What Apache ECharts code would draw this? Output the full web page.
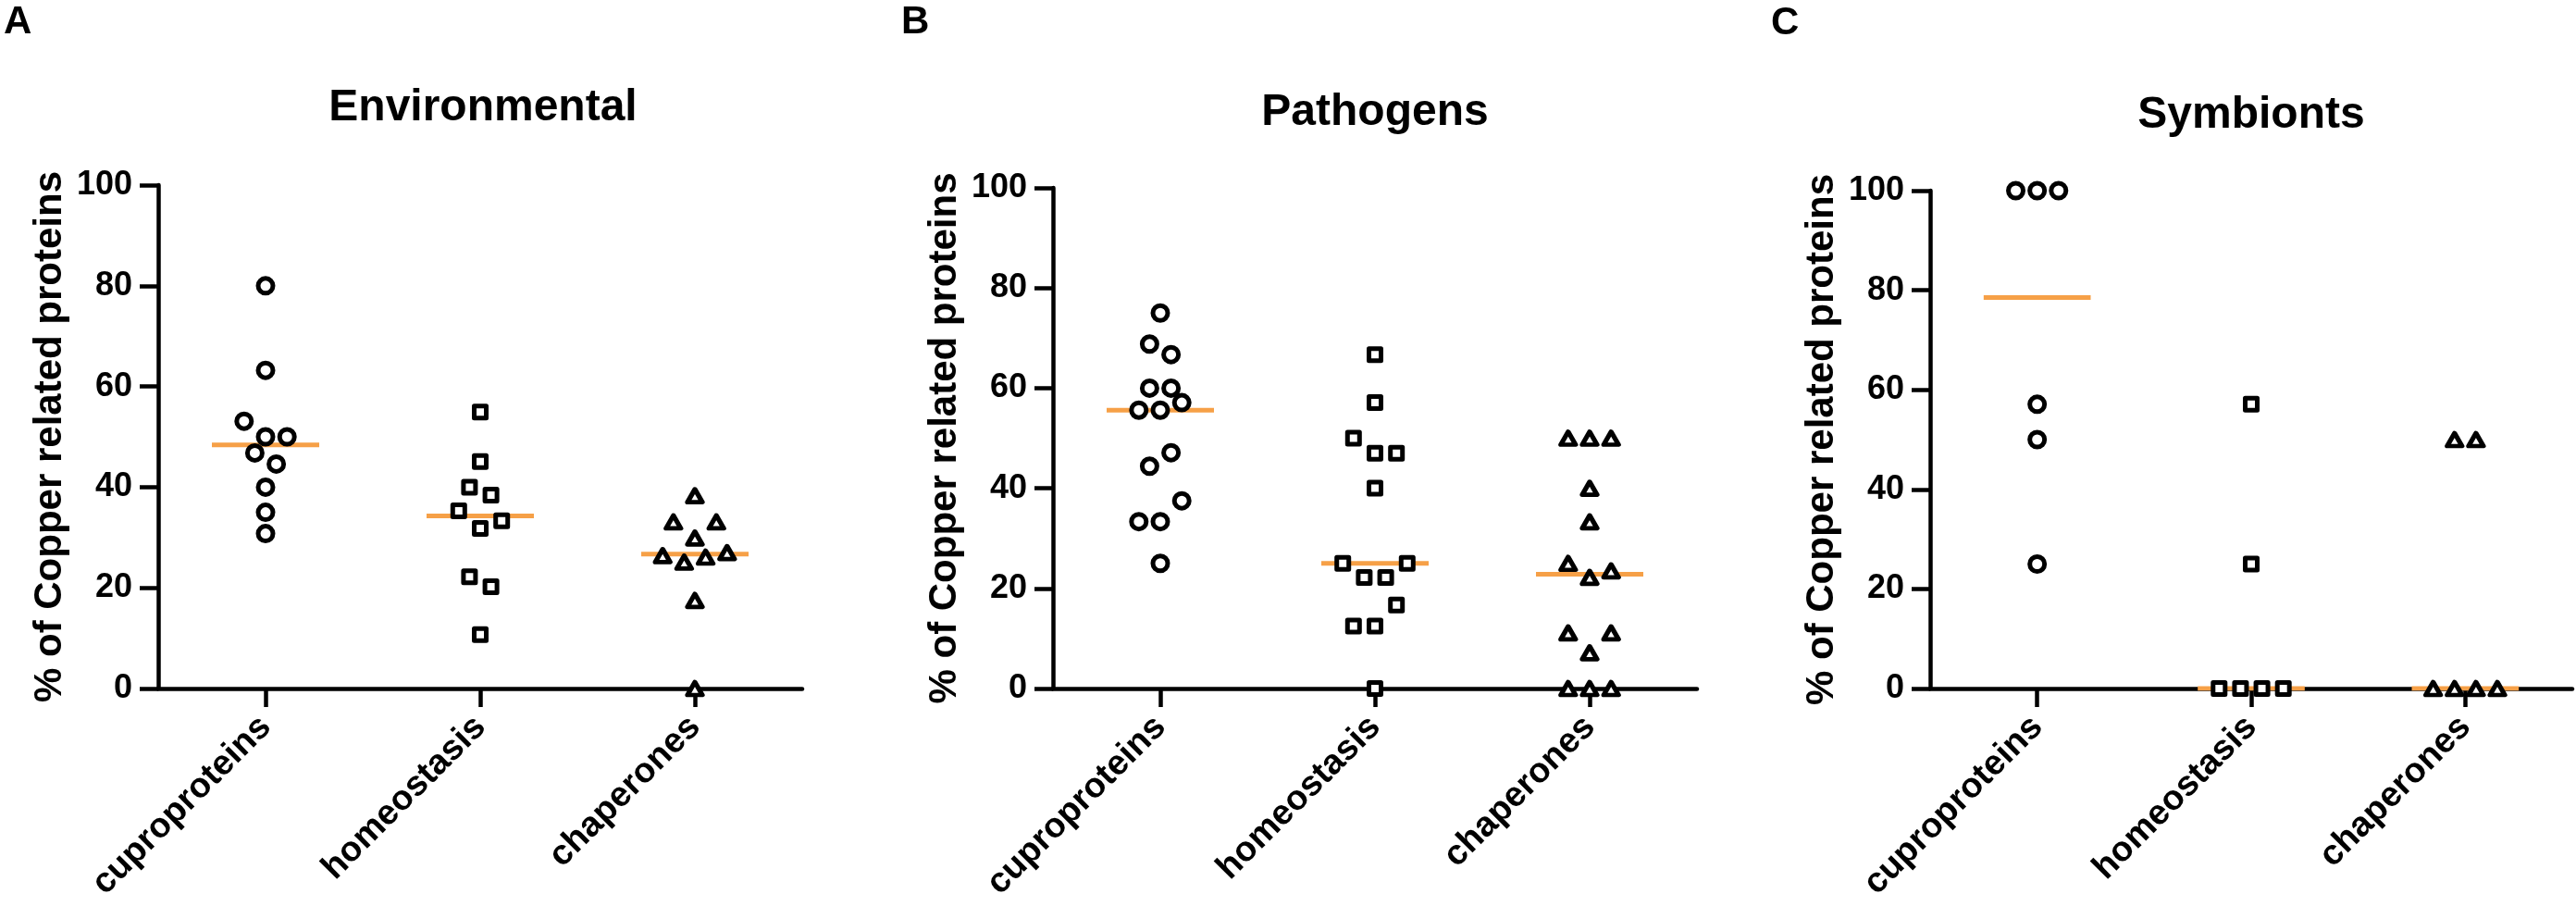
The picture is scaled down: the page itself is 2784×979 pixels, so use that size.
<!DOCTYPE html>
<html>
<head>
<meta charset="utf-8">
<script src="https://cdn.jsdelivr.net/npm/echarts/dist/echarts.min.js"></script>
<style>
html,body{margin:0;padding:0;background:#ffffff;}
#chart{width:2784px;height:979px;}
</style>
</head>
<body>
<div id="chart"></div>
<script>
// ---------- data ----------
const categories = ['cuproproteins', 'homeostasis', 'chaperones'];
const panelTitles = ['Environmental', 'Pathogens', 'Symbionts'];
const panelLetters = ['A', 'B', 'C'];
const yTickValues = [0, 20, 40, 60, 80, 100];
const yAxisTitle = '% of Copper related proteins';

// values listed top-to-bottom, left-to-right as they appear in each column
const envCupro = [80, 63.2, 53.1, 50, 50, 46.8, 44.6, 40, 35.0, 30.77];
const envHomeo = [54.9, 45.1, 40, 38.4, 35.3, 31.8, 33.3, 22.2, 20.2, 10.7];
const envChap  = [38.3, 33.1, 29.9, 33.1, 26.4, 25.1, 26.1, 27, 17.5, 0];

const pathCupro = [75, 68.8, 66.7, 60, 60, 55.6, 55.6, 57.1, 44.4, 47.1, 33.33, 33.33, 37.5, 25];
const pathHomeo = [66.7, 57.1, 50, 47, 47, 40, 25, 22.2, 22.2, 25, 12.5, 12.5, 16.67, 0];
const pathChap  = [50, 50, 50, 40, 33.3, 25, 22.2, 23.5, 11.11, 7.14, 11.11, 0, 0, 0];

const symCupro = [100, 100, 100, 57.1, 50, 25];
const symHomeo = [57.1, 25, 0, 0, 0, 0];
const symChap  = [50, 50, 0, 0, 0, 0];

const panelData = [
  [envCupro, envHomeo, envChap],
  [pathCupro, pathHomeo, pathChap],
  [symCupro, symHomeo, symChap]
];

// ---------- styling / layout ----------
const FONT = "'Liberation Sans', Arial, Helvetica, sans-serif";
const ORANGE = '#F6A047';
const SYMBOLS = ['circle', 'rect', 'triangle'];
const SYMBOL_SIZES = [16, 13, [16, 14]];
const SLOT_W = 0.05;      // horizontal step of the column scatter (category units)
const ROW_SPAN = 4.2;     // values closer than this share a scatter row
const MEDIAN_HALF = 0.25; // half width of the median bar (category units)

const grids = [
  {left: 171, top: 200, width: 696, height: 544},
  {left: 1138, top: 203, width: 696, height: 541},
  {left: 2086, top: 206, width: 694, height: 538}
];
const titlePos = [[522, 117], [1486, 122], [2433, 125]];
const letterPos = [[4, 24], [974, 24], [1914, 25]];

// column-scatter placement: group close values into rows, spread each row
function swarmSlots(values) {
  const order = values.map((v, i) => i).sort((a, b) => values[a] - values[b] || a - b);
  const slots = new Array(values.length).fill(0);
  let k = 0;
  while (k < order.length) {
    const start = values[order[k]];
    const row = [];
    while (k < order.length && values[order[k]] - start < ROW_SPAN) { row.push(order[k]); k++; }
    row.sort((a, b) => a - b);
    row.forEach((i, j) => { slots[i] = -(row.length - 1) + 2 * j; });
  }
  return slots;
}
function median(values) {
  const s = values.slice().sort((a, b) => a - b);
  const n = s.length;
  return n % 2 ? s[(n - 1) / 2] : (s[n / 2 - 1] + s[n / 2]) / 2;
}

const xAxes = [], yAxes = [], series = [], graphics = [];
grids.forEach((g, p) => {
  xAxes.push({
    type: 'category', gridIndex: p, data: categories, boundaryGap: true, position: 'bottom',
    axisLine: {show: true, onZero: false, lineStyle: {color: '#000', width: 4.5}},
    axisTick: {show: true, alignWithLabel: true, length: 20, lineStyle: {color: '#000', width: 4.5}},
    axisLabel: {rotate: 45, margin: 36, color: '#000', fontSize: 38, fontWeight: 'bold', fontFamily: FONT, interval: 0},
    splitLine: {show: false}
  });
  xAxes.push({
    type: 'value', gridIndex: p, min: -0.5, max: 2.5, show: false, splitLine: {show: false}
  });
  yAxes.push({
    type: 'value', gridIndex: p, min: 0, max: 100, interval: 20, position: 'left',
    name: yAxisTitle, nameLocation: 'middle', nameGap: 96,
    nameTextStyle: {color: '#000', fontSize: 42, fontWeight: 'bold', fontFamily: FONT},
    axisLine: {show: true, onZero: false, lineStyle: {color: '#000', width: 4.5}},
    axisTick: {show: true, length: 20, lineStyle: {color: '#000', width: 4.5}},
    axisLabel: {margin: 28, color: '#000', fontSize: 36, fontWeight: 'bold', fontFamily: FONT,
      formatter: v => (yTickValues.indexOf(v) >= 0 ? String(v) : '')},
    splitLine: {show: false}
  });
  panelData[p].forEach((vals, c) => {
    const slots = swarmSlots(vals);
    const m = median(vals);
    series.push({
      type: 'line', xAxisIndex: 2 * p + 1, yAxisIndex: p,
      data: [[c - MEDIAN_HALF, m], [c + MEDIAN_HALF, m]],
      symbol: 'none', lineStyle: {color: ORANGE, width: 5}, z: 2, silent: true, animation: false
    });
    series.push({
      type: 'scatter', xAxisIndex: 2 * p + 1, yAxisIndex: p,
      data: vals.map((v, i) => [c + slots[i] * SLOT_W, v]),
      symbol: SYMBOLS[c], symbolSize: SYMBOL_SIZES[c], clip: false,
      itemStyle: {color: '#ffffff', borderColor: '#000000', borderWidth: 5, borderJoin: 'round', opacity: 1},
      z: 3, animation: false
    });
  });
  graphics.push({
    type: 'text', x: titlePos[p][0], y: titlePos[p][1],
    style: {text: panelTitles[p], fill: '#000', font: 'bold 48px ' + FONT, textAlign: 'center', textVerticalAlign: 'middle'}
  });
  graphics.push({
    type: 'text', x: letterPos[p][0], y: letterPos[p][1],
    style: {text: panelLetters[p], fill: '#000', font: 'bold 42px ' + FONT, textAlign: 'left', textVerticalAlign: 'middle'}
  });
});

const chart = echarts.init(document.getElementById('chart'), null, {renderer: 'canvas'});
chart.setOption({
  backgroundColor: '#ffffff',
  animation: false,
  grid: grids,
  xAxis: xAxes,
  yAxis: yAxes,
  series: series,
  graphic: graphics
});
</script>
</body>
</html>
